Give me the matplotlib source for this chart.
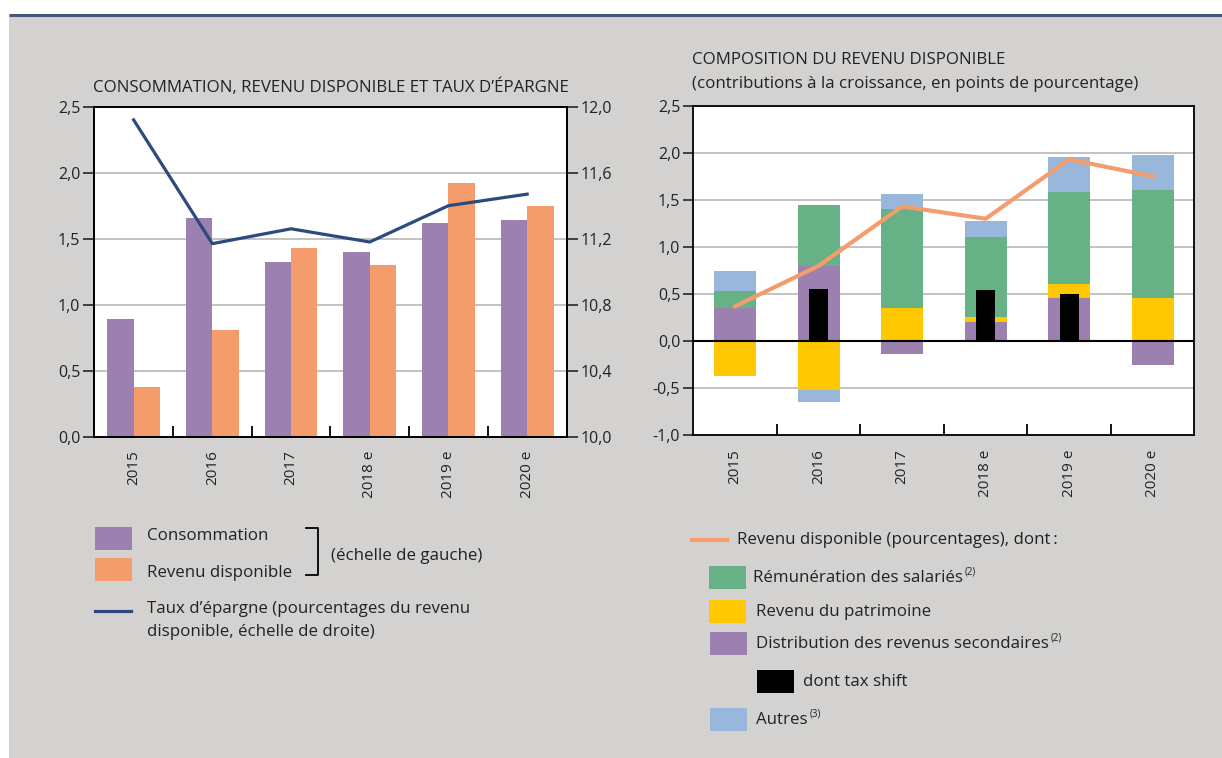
import matplotlib
matplotlib.use("Agg")
import matplotlib.pyplot as plt
from matplotlib.patches import Rectangle
import numpy as np

plt.rcParams['font.family'] = ['Open Sans', 'DejaVu Sans']

# ---------------- data ----------------
years = ["2015", "2016", "2017", "2018 e", "2019 e", "2020 e"]
consommation = [0.89, 1.66, 1.32, 1.40, 1.62, 1.64]
revenu_disp = [0.38, 0.81, 1.43, 1.30, 1.92, 1.75]
taux_epargne = [11.92, 11.17, 11.26, 11.18, 11.40, 11.47]

remuneration = [0.18, 0.65, 1.05, 0.85, 0.97, 1.15]
patrimoine = [-0.37, -0.52, 0.35, 0.06, 0.15, 0.46]
distribution = [0.35, 0.80, -0.14, 0.20, 0.46, -0.25]
autres = [0.21, -0.13, 0.16, 0.17, 0.37, 0.37]
tax_shift = [0.0, 0.55, 0.0, 0.54, 0.50, 0.0]
revenu_total = [0.37, 0.80, 1.43, 1.30, 1.93, 1.75]

left_ticks = [0.0, 0.5, 1.0, 1.5, 2.0, 2.5]
right_ticks = [10.0, 10.4, 10.8, 11.2, 11.6, 12.0]
comp_ticks = [-1.0, -0.5, 0.0, 0.5, 1.0, 1.5, 2.0, 2.5]

# ---------------- style ----------------
C_PURPLE = "#9b80b0"
C_ORANGE = "#f49c6c"
C_NAVY = "#2b4a7e"
C_GREEN = "#66b186"
C_YELLOW = "#ffc800"
C_BLUE = "#99b6db"
C_BG = "#d3d2d0"
C_GRID = "#bdbdbd"
C_TXT = "#222222"
FS = 12.2      # body text
FS_TICK = 11.5
FS_XL = 11

W, H = 1222, 758
fig = plt.figure(figsize=(W / 100, H / 100), dpi=100)
fig.patch.set_facecolor("white")

def rect(x0, y0, x1, y1):
    return [x0 / W, 1 - y1 / H, (x1 - x0) / W, (y1 - y0) / H]

# background
bg = fig.add_axes([0, 0, 1, 1], zorder=-10)
bg.set_xlim(0, W); bg.set_ylim(H, 0); bg.axis("off")
bg.add_patch(Rectangle((9, 15), W - 9, H - 15, color=C_BG, lw=0))
bg.plot([9, W], [14.5, 14.5], color="#46577a", lw=2.2, solid_capstyle="butt")

def fmt(v, d=1):
    return f"{v:.{d}f}".replace(".", ",")

x = np.arange(len(years))

# ---------------- left chart ----------------
ax1 = fig.add_axes(rect(94.3, 106.7, 566.5, 436.7))
ax1.set_xlim(-0.5, len(years) - 0.5)
ax1.set_ylim(0, 2.5)
bw = 0.335
ax1.bar(x - bw / 2, consommation, width=bw, color=C_PURPLE, zorder=2)
ax1.bar(x + bw / 2, revenu_disp, width=bw, color=C_ORANGE, zorder=2)
ax1.set_yticks(left_ticks)
ax1.set_yticklabels([fmt(v) for v in left_ticks])
for v in left_ticks[1:-1]:
    ax1.axhline(v, color=C_GRID, lw=1.3, zorder=1)
ax1.set_xticks(x)
ax1.set_xticklabels(years, rotation=90, va="top", ha="center")
ax1.set_xticks(x[:-1] + 0.5, minor=True)
ax1.tick_params(axis="x", which="major", length=0, pad=10, labelsize=FS_XL, colors=C_TXT)
ax1.tick_params(axis="x", which="minor", direction="in", length=8, width=1.3, color="black")
ax1.tick_params(axis="y", direction="out", length=8, width=1.3, labelsize=FS_TICK, colors=C_TXT, pad=2)
ax1.tick_params(axis="y", color="#333333")
for s in ax1.spines.values():
    s.set_linewidth(1.3)
    s.set_color("black")

ax1b = ax1.twinx()
ax1b.set_ylim(10.0, 12.0)
ax1b.plot(x, taux_epargne, color=C_NAVY, lw=2.3, zorder=5)
ax1b.set_yticks(right_ticks)
ax1b.set_yticklabels([fmt(v) for v in right_ticks])
ax1b.tick_params(axis="y", direction="out", length=8, width=1.3, labelsize=FS_TICK, colors=C_TXT, pad=2)
ax1b.tick_params(axis="y", color="#333333")
for s in ax1b.spines.values():
    s.set_linewidth(1.3)
    s.set_color("black")

# ---------------- right chart ----------------
ax2 = fig.add_axes(rect(693.4, 105.7, 1194.4, 435.3))
ax2.set_xlim(-0.5, len(years) - 0.5)
ax2.set_ylim(-1.0, 2.5)
for v in comp_ticks:
    if v != 0.0:
        ax2.axhline(v, color=C_GRID, lw=1.3, zorder=1)

bw2 = 0.5
pos_base = np.zeros(len(years))
neg_base = np.zeros(len(years))
for vals, col in [(distribution, C_PURPLE), (patrimoine, C_YELLOW),
                  (remuneration, C_GREEN), (autres, C_BLUE)]:
    vals = np.array(vals)
    pos = np.where(vals > 0, vals, 0)
    neg = np.where(vals < 0, vals, 0)
    ax2.bar(x, pos, width=bw2, bottom=pos_base, color=col, zorder=2, lw=0)
    ax2.bar(x, neg, width=bw2, bottom=neg_base, color=col, zorder=2, lw=0)
    pos_base += pos
    neg_base += neg
ax2.bar(x, tax_shift, width=0.23, color="black", zorder=3, lw=0)
ax2.axhline(0, color="black", lw=1.5, zorder=4)
ax2.plot(x, revenu_total, color=C_ORANGE, lw=3, zorder=5)

ax2.set_yticks(comp_ticks)
ax2.set_yticklabels([fmt(v) for v in comp_ticks])
ax2.set_xticks(x)
ax2.set_xticklabels(years, rotation=90, va="top", ha="center")
ax2.set_xticks(x[:-1] + 0.5, minor=True)
ax2.tick_params(axis="x", which="major", length=0, pad=10, labelsize=FS_XL, colors=C_TXT)
ax2.tick_params(axis="x", which="minor", direction="in", length=8, width=1.3, color="black")
ax2.tick_params(axis="y", direction="out", length=7.5, width=1.3, labelsize=FS_TICK, colors=C_TXT, pad=2)
ax2.tick_params(axis="y", color="#333333")
for s in ax2.spines.values():
    s.set_linewidth(1.3)
    s.set_color("black")

# ---------------- overlay: titles and legends ----------------
ov = fig.add_axes([0, 0, 1, 1], zorder=10)
ov.set_xlim(0, W); ov.set_ylim(H, 0); ov.axis("off")

def T(xp, yp, s, size=FS, **kw):
    return ov.text(xp, yp, s, fontsize=size, color=C_TXT, va="center", ha="left", **kw)

T(93, 87, "CONSOMMATION, REVENU DISPONIBLE ET TAUX D\u2019\u00c9PARGNE")
T(692, 60, "COMPOSITION DU REVENU DISPONIBLE")
T(692, 84, "(contributions \u00e0 la croissance, en points de pourcentage)")

# left legend
ov.add_patch(Rectangle((95, 527), 37, 23, color=C_PURPLE, lw=0))
ov.add_patch(Rectangle((95, 558), 37, 23, color=C_ORANGE, lw=0))
T(147, 536, "Consommation")
T(147, 573, "Revenu disponible")
ov.plot([306, 318, 318, 306], [528, 528, 575, 575], color="black", lw=1.3)
T(331, 556, "(\u00e9chelle de gauche)")
ov.plot([95, 131], [611, 611], color=C_NAVY, lw=2.3)
T(147, 609, "Taux d\u2019\u00e9pargne (pourcentages du revenu")
T(147, 632, "disponible, \u00e9chelle de droite)")

# right legend
ov.plot([692, 727], [540, 540], color=C_ORANGE, lw=3)
T(737, 540, "Revenu disponible (pourcentages), dont\u2009:")
items = [
    (709, 566, C_GREEN, 753, "R\u00e9mun\u00e9ration des salari\u00e9s", "(2)"),
    (709, 600, C_YELLOW, 756, "Revenu du patrimoine", None),
    (710, 632, C_PURPLE, 756, "Distribution des revenus secondaires", "(2)"),
    (757, 670, "black", 803, "dont tax shift", None),
    (710, 708, C_BLUE, 756, "Autres", "(3)"),
]
sup_pending = []
for bx, by, col, tx, label, sup in items:
    ov.add_patch(Rectangle((bx, by), 37, 22.5, color=col, lw=0))
    t = T(tx, by + 12, label)
    if sup:
        sup_pending.append((t, sup, by + 12))

fig.canvas.draw()
r = fig.canvas.get_renderer()
for t, sup, yc in sup_pending:
    bb = t.get_window_extent(renderer=r)
    ov.text(bb.x1 + 1.5, yc - 6, sup, fontsize=7, color=C_TXT, va="center", ha="left")

fig.savefig("out.png", dpi=100, facecolor=fig.get_facecolor())
